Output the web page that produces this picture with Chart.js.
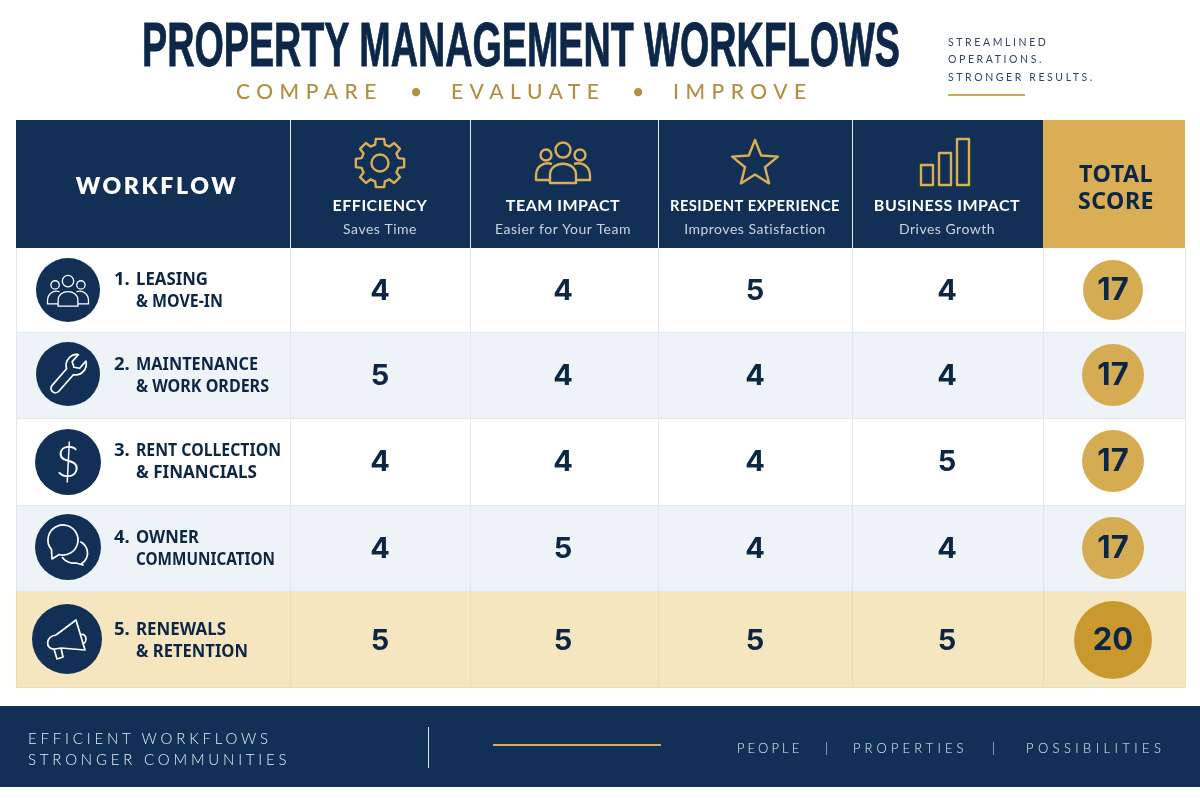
<!DOCTYPE html>
<html>
<head>
<meta charset="utf-8">
<title>Property Management Workflows</title>
<script src="https://cdn.jsdelivr.net/npm/chart.js@4"></script>
<style>
  html, body { margin: 0; padding: 0; background: #fff; }
  #page { position: relative; width: 1200px; height: 800px; overflow: hidden; font-family: Lato, "Noto Sans", sans-serif; }
  #graphic { position: absolute; left: 0; top: 0; }
  .abs { position: absolute; white-space: nowrap; }
  #title { left: 142px; top: 4px; font: bold 63px/80px "Liberation Sans Narrow", "Liberation Sans", sans-serif; color: #0c2748; -webkit-text-stroke: 0.9px #0c2748; transform-origin: left top; }
  .sub { top: 77px; font-size: 21px; line-height: 28px; letter-spacing: 6.5px; color: #b28f42; font-weight: 500; }
  .tag { left: 948px; font-size: 10.5px; line-height: 14px; letter-spacing: 2.6px; color: #33465f; }
  #tag_rule { left: 948px; top: 94px; width: 77px; height: 2px; background: #d1a94f; }
  #band { left: 0; top: 706px; width: 1200px; height: 81px; background: #122f56; }
  .foot { font-size: 15px; line-height: 20px; letter-spacing: 3.8px; color: #e6edf5; font-weight: 300; will-change: transform; }
  .small { font-size: 13px; top: 738px; letter-spacing: 3.1px; }
</style>
</head>
<body>
<div id="page">
  <canvas id="graphic" width="1200" height="800"></canvas>

  <div class="abs" id="title">PROPERTY MANAGEMENT WORKFLOWS</div>
  <div class="abs sub" style="left:236px">COMPARE</div>
  <div class="abs sub" style="left:410px">•</div>
  <div class="abs sub" style="left:451px">EVALUATE</div>
  <div class="abs sub" style="left:632px">•</div>
  <div class="abs sub" style="left:673px">IMPROVE</div>
  <div class="abs tag" style="top:35px">STREAMLINED</div>
  <div class="abs tag" style="top:52px">OPERATIONS.</div>
  <div class="abs tag" style="top:70px">STRONGER RESULTS.</div>
  <div class="abs" id="tag_rule"></div>

  <div class="abs" id="band"></div>
  <div class="abs foot" style="left:28px;top:728px">EFFICIENT WORKFLOWS</div>
  <div class="abs foot" style="left:28px;top:749px">STRONGER COMMUNITIES</div>
  <div class="abs" style="left:428px;top:727px;width:1px;height:41px;background:#dbe4ee"></div>
  <div class="abs" style="left:493px;top:744px;width:168px;height:2px;background:#d1ad5f"></div>
  <div class="abs foot small" style="left:737px">PEOPLE</div>
  <div class="abs foot small" style="left:825px">|</div>
  <div class="abs foot small" style="left:853px;letter-spacing:4.1px">PROPERTIES</div>
  <div class="abs foot small" style="left:992px">|</div>
  <div class="abs foot small" style="left:1026px;letter-spacing:4.4px">POSSIBILITIES</div>
</div>

<script>
// table content
const columns = ["EFFICIENCY", "TEAM IMPACT", "RESIDENT EXPERIENCE", "BUSINESS IMPACT"]
const column_notes = ["Saves Time", "Easier for Your Team", "Improves Satisfaction", "Drives Growth"]
const workflow_numbers = ["1.", "2.", "3.", "4.", "5."]
const workflow_first = ["LEASING", "MAINTENANCE", "RENT COLLECTION", "OWNER", "RENEWALS"]
const workflow_second = ["& MOVE-IN", "& WORK ORDERS", "& FINANCIALS", "COMMUNICATION", "& RETENTION"]

const efficiency = [4, 5, 4, 4, 5]
const team_impact = [4, 4, 4, 5, 5]
const resident_experience = [5, 4, 4, 4, 5]
const business_impact = [4, 4, 5, 4, 5]
const total_score = [17, 17, 17, 17, 20]

// layout, in the units of the two axes
const col_edges = [16, 290, 470, 658, 852, 1043, 1185]
const row_edges = [120, 248, 332, 418, 505, 591, 687]
const col_centers = [380, 563, 755, 947]
const total_center = 1113
const row_centers = [290, 375, 461, 548, 640]
const icon_center = [68, 68, 68, 68, 67]
const icon_y = [290, 374, 462, 547, 639]
const icon_radius = [32, 32, 33, 33, 35]
const total_radius = [30, 31, 31, 31, 39]
const first_widths = [72, 122, 145, 63, 90]
const second_widths = [87, 133, 121, 139, 112]

const navy = "#122f56"
const ink = "#0d2645"
const gold = "#d9ae55"
const row_colors = ["#ffffff", "#eef3f8", "#ffffff", "#eef3f8", "#f6e6c0"]
const line_colors = ["#e3e8ee", "#e3e8ee", "#e3e8ee", "#e3e8ee", "#ecdcb4"]

const seriesPoints = (values) => values.map((value, i) => ({ y: row_centers[i], value: value, r: 0 }))
const scoreSets = [efficiency, team_impact, resident_experience, business_impact].map((values, c) => ({
  label: columns[c],
  data: seriesPoints(values).map((p) => ({ ...p, x: col_centers[c] })),
  backgroundColor: "rgba(0,0,0,0)",
  borderWidth: 0,
}))

const totalSet = {
  label: "TOTAL SCORE",
  data: total_score.map((value, i) => ({ x: total_center, y: row_centers[i], r: total_radius[i], value: value })),
  backgroundColor: total_score.map((value) => (value === 20 ? "#c9982f" : "#d6ac53")),
  borderWidth: 0,
}

const iconSet = {
  label: "Workflow icons",
  data: icon_y.map((y, i) => ({ x: icon_center[i], y: y, r: icon_radius[i] })),
  backgroundColor: navy,
  borderWidth: 0,
}

function write(ctx, text, x, y, font, color, align, spacing, maxWidth) {
  ctx.font = font
  ctx.fillStyle = color
  ctx.textAlign = align || "left"
  ctx.textBaseline = "middle"
  ctx.letterSpacing = spacing || "0px"
  if (maxWidth) ctx.fillText(text, x, y, maxWidth)
  else ctx.fillText(text, x, y)
  ctx.letterSpacing = "0px"
}

function people(ctx, cx, cy, k) {
  ctx.save()
  ctx.translate(cx, cy)
  ctx.scale(k, k)
  ctx.beginPath()
  ctx.arc(0, -13, 7.5, 0, Math.PI * 2)
  ctx.moveTo(-11.5, -8)
  ctx.arc(-17, -8, 5.5, 0, Math.PI * 2)
  ctx.moveTo(22.5, -8)
  ctx.arc(17, -8, 5.5, 0, Math.PI * 2)
  // middle body
  ctx.moveTo(-13, 20)
  ctx.lineTo(-13, 12)
  ctx.bezierCurveTo(-13, -3, 13, -3, 13, 12)
  ctx.lineTo(13, 20)
  ctx.closePath()
  // side shoulders
  ctx.moveTo(-11, 1)
  ctx.bezierCurveTo(-20, -2, -27, 4, -27, 13)
  ctx.lineTo(-27, 17)
  ctx.lineTo(-13, 17)
  ctx.moveTo(11, 1)
  ctx.bezierCurveTo(20, -2, 27, 4, 27, 13)
  ctx.lineTo(27, 17)
  ctx.lineTo(13, 17)
  ctx.stroke()
  ctx.restore()
}

function gear(ctx, cx, cy) {
  const teeth = 8
  ctx.beginPath()
  for (let i = 0; i < teeth; i++) {
    const a = (i / teeth) * Math.PI * 2 - Math.PI / 2
    const w = 0.17
    const pts = [[19, a - 0.26], [24.5, a - w], [24.5, a + w], [19, a + 0.26]]
    pts.forEach((p, j) => {
      const px = cx + p[0] * Math.cos(p[1])
      const py = cy + p[0] * Math.sin(p[1])
      if (i === 0 && j === 0) ctx.moveTo(px, py)
      else ctx.lineTo(px, py)
    })
  }
  ctx.closePath()
  ctx.moveTo(cx + 8.5, cy)
  ctx.arc(cx, cy, 8.5, 0, Math.PI * 2)
  ctx.stroke()
}

function star(ctx, cx, cy) {
  ctx.beginPath()
  for (let i = 0; i < 10; i++) {
    const r = i % 2 ? 10.5 : 24
    const a = (i / 10) * Math.PI * 2 - Math.PI / 2
    ctx.lineTo(cx + r * Math.cos(a), cy + 2 + r * Math.sin(a))
  }
  ctx.closePath()
  ctx.stroke()
}

function wrench(ctx, cx, cy) {
  ctx.save()
  ctx.translate(cx, cy)
  ctx.rotate(0.72)
  ctx.stroke(new Path2D("M-4.5 19 L-4.5 -3 A11 11 0 0 1 -5 -21.5 L-5 -12 L0 -9 L5 -12 L5 -21.5 A11 11 0 0 1 4.5 -3 L4.5 19 A4.5 4.5 0 0 1 -4.5 19 Z"))
  ctx.restore()
}

function chats(ctx, cx, cy) {
  ctx.save()
  ctx.translate(cx, cy)
  const rad = Math.PI / 180
  ctx.beginPath()
  ctx.arc(-5, -7, 15, 105 * rad, 140 * rad, true)
  ctx.lineTo(-16, 12)
  ctx.closePath()
  ctx.stroke()
  ctx.beginPath()
  ctx.arc(7, 6, 12.5, -65 * rad, 60 * rad)
  ctx.lineTo(15, 18)
  ctx.lineTo(8, 16)
  ctx.quadraticCurveTo(-1, 17, -6, 10)
  ctx.stroke()
  ctx.restore()
}

function megaphone(ctx, cx, cy) {
  ctx.save()
  ctx.translate(cx, cy)
  ctx.beginPath()
  ctx.moveTo(-11, -4)
  ctx.lineTo(9, -19)
  ctx.lineTo(18, 11)
  ctx.lineTo(-6, 9)
  ctx.moveTo(-11, -4)
  ctx.bezierCurveTo(-22, -3, -22, 11, -12, 10)
  ctx.lineTo(-6, 9)
  ctx.moveTo(-13, 10)
  ctx.lineTo(-10, 20)
  ctx.lineTo(-4, 18)
  ctx.lineTo(-6, 9)
  ctx.moveTo(13, -4)
  ctx.bezierCurveTo(20, -7, 21, 4, 15, 5)
  ctx.stroke()
  ctx.restore()
}

// cell backgrounds and header, placed through the chart scales
const tablePlugin = {
  id: "table",
  beforeDatasetsDraw(chart) {
    const ctx = chart.ctx
    const px = (v) => chart.scales.x.getPixelForValue(v)
    const py = (v) => chart.scales.y.getPixelForValue(v)
    const n = col_edges.length - 1

    ctx.save()
    for (let c = 0; c < n; c++) {
      ctx.fillStyle = c === n - 1 ? gold : navy
      ctx.fillRect(px(col_edges[c]), py(row_edges[0]), px(col_edges[c + 1]) - px(col_edges[c]), py(row_edges[1]) - py(row_edges[0]))
    }
    row_colors.forEach((color, r) => {
      ctx.fillStyle = color
      ctx.fillRect(px(col_edges[0]), py(row_edges[r + 1]), px(col_edges[n]) - px(col_edges[0]), py(row_edges[r + 2]) - py(row_edges[r + 1]))
    })

    ctx.lineWidth = 1
    // header separators
    ctx.strokeStyle = "#e3e9f0"
    col_edges.slice(1, 5).forEach((edge) => {
      ctx.beginPath()
      ctx.moveTo(px(edge) + 0.5, py(row_edges[0]))
      ctx.lineTo(px(edge) + 0.5, py(row_edges[1]))
      ctx.stroke()
    })
    // body lines
    row_colors.forEach((color, r) => {
      ctx.strokeStyle = line_colors[r]
      col_edges.forEach((edge) => {
        ctx.beginPath()
        ctx.moveTo(px(edge) + 0.5, py(row_edges[r + 1]))
        ctx.lineTo(px(edge) + 0.5, py(row_edges[r + 2]))
        ctx.stroke()
      })
      ctx.beginPath()
      ctx.moveTo(px(col_edges[0]), py(row_edges[r + 2]) + 0.5)
      ctx.lineTo(px(col_edges[n]), py(row_edges[r + 2]) + 0.5)
      ctx.stroke()
    })

    // header text
    write(ctx, "WORKFLOW", px(157), py(187), "800 23px Lato", "#ffffff", "center", "2.6px")
    columns.forEach((name, c) => {
      const center = col_centers[c]
      write(ctx, name, center, py(206), "bold 16px Lato", "#ffffff", "center", "0.5px", 170)
      write(ctx, column_notes[c], center, py(229), "400 14px Lato", "#c9d4e1", "center", "0.5px")
    })
    write(ctx, "TOTAL", px(1116), py(175), "bold 24px 'Noto Sans'", ink, "center", "0.5px", 74)
    write(ctx, "SCORE", px(1116), py(202), "bold 24px 'Noto Sans'", ink, "center", "0.5px", 76)

    // header icons
    ctx.strokeStyle = gold
    ctx.lineWidth = 2.4
    ctx.lineJoin = "round"
    gear(ctx, px(380), py(163))
    people(ctx, px(563), py(163), 1)
    star(ctx, px(755), py(162))
    ctx.strokeRect(px(921), py(165), 12, 20)
    ctx.strokeRect(px(939), py(153), 12, 32)
    ctx.strokeRect(px(957), py(139), 12, 46)

    // workflow names
    workflow_numbers.forEach((number, r) => {
      const y = row_centers[r] + 1
      write(ctx, number, px(114), py(y - 11), "bold 18.5px 'Noto Sans'", ink)
      write(ctx, workflow_first[r], px(136), py(y - 11), "bold 18.5px 'Noto Sans'", ink, "left", "0px", first_widths[r])
      write(ctx, workflow_second[r], px(136), py(y + 11), "bold 18.5px 'Noto Sans'", ink, "left", "0px", second_widths[r])
    })
    ctx.restore()
  },
  afterDatasetsDraw(chart) {
    const ctx = chart.ctx
    ctx.save()
    // values sit on their points
    chart.data.datasets.forEach((set, d) => {
      if (set === iconSet) return
      chart.getDatasetMeta(d).data.forEach((point, i) => {
        const value = set.data[i].value
        const size = set === totalSet ? 31 : 29
        write(ctx, String(value), point.x, point.y + 1, `bold ${size}px Inter`, ink, "center")
      })
    })
    // icons on the navy circles
    const icons = chart.getDatasetMeta(chart.data.datasets.indexOf(iconSet)).data
    ctx.strokeStyle = "#ffffff"
    ctx.lineWidth = 1.7
    ctx.lineJoin = "round"
    people(ctx, icons[0].x, icons[0].y + 1, 0.76)
    wrench(ctx, icons[1].x, icons[1].y)
    write(ctx, "$", icons[2].x, icons[2].y + 1, "300 44px Lato", "#ffffff", "center")
    chats(ctx, icons[3].x, icons[3].y)
    megaphone(ctx, icons[4].x, icons[4].y)
    ctx.restore()
  },
}

new Chart(document.querySelector("#graphic"), {
  type: "bubble",
  data: { datasets: [...scoreSets, totalSet, iconSet] },
  options: {
    responsive: false,
    animation: false,
    events: [],
    clip: false,
    layout: { padding: 0, autoPadding: false },
    plugins: { legend: { display: false }, tooltip: { enabled: false } },
    scales: {
      x: { type: "linear", min: 0, max: 1200, display: false },
      y: { type: "linear", min: 0, max: 800, reverse: true, display: false },
    },
  },
  plugins: [tablePlugin],
})

// squeeze the title to the width it has in the picture
const title = document.querySelector("#title")
title.style.transform = `scaleX(${758 / title.offsetWidth})`
</script>
</body>
</html>
